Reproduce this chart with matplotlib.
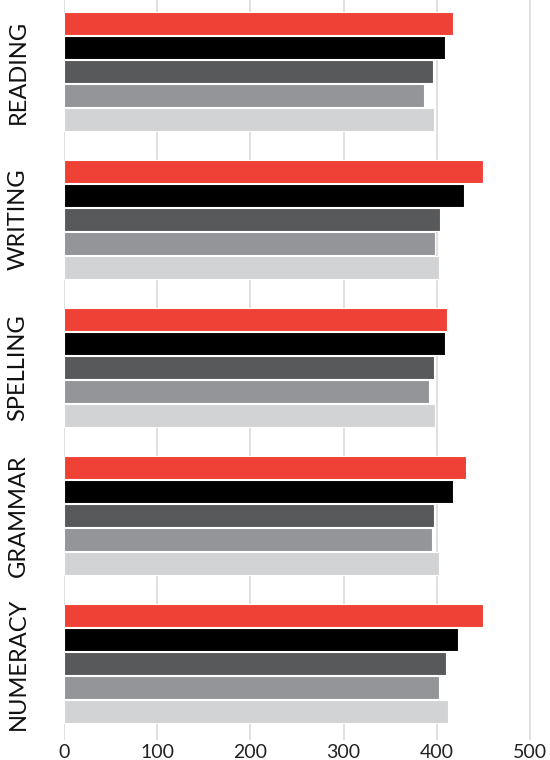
import matplotlib
matplotlib.use("Agg")
import matplotlib.pyplot as plt
import matplotlib.transforms as mtransforms
from matplotlib import font_manager

subjects = ["READING", "WRITING", "SPELLING", "GRAMMAR", "NUMERACY"]
series_colors = ["#EF4136", "#000000", "#58595B", "#939598", "#D1D3D4"]
reading = [417, 409, 396, 386, 397]
writing = [450, 429, 404, 398, 403]
spelling = [411, 409, 397, 392, 398]
grammar = [432, 418, 397, 395, 403]
numeracy = [450, 423, 410, 403, 412]
values = [reading, writing, spelling, grammar, numeracy]
xticks = [0, 100, 200, 300, 400, 500]

names = {f.name for f in font_manager.fontManager.ttflist}
fam = "Lato" if "Lato" in names else "DejaVu Sans"
plt.rcParams["font.family"] = [fam, "DejaVu Sans"]

W, H = 550, 760
fig = plt.figure(figsize=(W / 100, H / 100), dpi=100)
fig.patch.set_facecolor("white")

left_px, right_px = 64, 534.5
xmax = 505
panel_px = 148
top_px = 0
unit_px = 24.2
ytop = -0.5 - 11 / unit_px
ybot = ytop + panel_px / unit_px

for i, (subj, vals) in enumerate(zip(subjects, values)):
    y0 = top_px + i * panel_px
    ax = fig.add_axes([left_px / W, 1 - (y0 + panel_px) / H,
                       (right_px - left_px) / W, panel_px / H])
    pos = list(range(len(vals)))
    ax.barh(pos, vals, height=0.95, color=series_colors,
            edgecolor="white", linewidth=0.8, zorder=3)
    ax.set_xlim(0, xmax)
    ax.set_ylim(ybot, ytop)
    ax.set_xticks(xticks)
    ax.grid(axis="x", color="#DADADA", linewidth=1.2, zorder=0)
    ax.set_yticks([])
    for s in ax.spines.values():
        s.set_visible(False)
    ax.tick_params(axis="x", length=0, pad=3, labelsize=14, labelcolor="#222222")
    if i < len(subjects) - 1:
        ax.tick_params(axis="x", labelbottom=False)
    trans = mtransforms.blended_transform_factory(ax.transAxes, ax.transData)
    ax.text(-(left_px - 18) / (right_px - left_px), 2, subj, rotation=90,
            ha="center", va="center", fontsize=17, fontweight="normal",
            color="#111111", transform=trans)

fig.savefig("out.png", dpi=100, facecolor="white")
